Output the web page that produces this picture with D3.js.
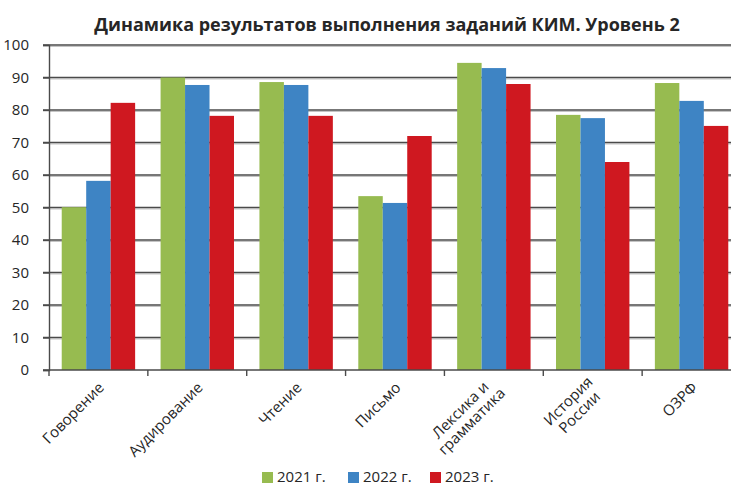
<!DOCTYPE html>
<html>
<head>
<meta charset="utf-8">
<script src="https://cdn.jsdelivr.net/npm/d3@7"></script>
<style>
  body { margin: 0; background: #fff; }
  svg { display: block; font-family: "Open Sans", "Noto Sans", sans-serif; }
</style>
</head>
<body>
<svg class="chart" width="731" height="487"></svg>
<script>
// data
const categories = ["Говорение", "Аудирование", "Чтение", "Письмо", "Лексика и\nграмматика", "История\nРоссии", "ОЗРФ"];
const years = ["2021 г.", "2022 г.", "2023 г."];
const values2021 = [50.1, 90.0, 88.6, 53.5, 94.5, 78.5, 88.3];
const values2022 = [58.2, 87.7, 87.7, 51.4, 92.9, 77.5, 82.8];
const values2023 = [82.2, 78.2, 78.2, 72.0, 88.0, 64.0, 75.1];
const yTicks = [0, 10, 20, 30, 40, 50, 60, 70, 80, 90, 100];

const series = [values2021, values2022, values2023];
const colors = ["#97bb50", "#3e84c4", "#cf1820"];

// config
const plotLeft = 49;
const plotRight = 741;
const plotTop = 45;
const plotBottom = 370;
const textColor = "#262626";

const svg = d3.select("svg.chart");

const x0 = d3.scaleBand().domain(d3.range(categories.length)).range([plotLeft, plotRight]);
const x1 = d3.scaleBand().domain(d3.range(years.length))
  .range([0, x0.bandwidth()]).paddingInner(0).paddingOuter(0.52);
const y = d3.scaleLinear().domain([0, 100]).range([plotBottom, plotTop]);

// title
svg.append("text")
  .attr("x", 387).attr("y", 31)
  .attr("text-anchor", "middle")
  .attr("font-size", 18).attr("font-weight", "bold")
  .attr("fill", textColor)
  .text("Динамика результатов выполнения заданий КИМ. Уровень 2");

// gridlines (dark line with light shadow)
const grid = svg.append("g").attr("class", "grid");
yTicks.filter(t => t > 0).forEach(t => {
  grid.append("line")
    .attr("x1", plotLeft).attr("x2", plotRight)
    .attr("y1", y(t) + 1.5).attr("y2", y(t) + 1.5)
    .attr("stroke", "#c4c4c4").attr("stroke-width", 1.2);
  grid.append("line")
    .attr("x1", plotLeft - 6).attr("x2", plotRight)
    .attr("y1", y(t)).attr("y2", y(t))
    .attr("stroke", "#4a4a4a").attr("stroke-width", 1.4);
});

// bars
const groups = svg.append("g").attr("class", "bars")
  .selectAll("g")
  .data(categories.map((c, i) => i))
  .join("g")
  .attr("transform", i => `translate(${x0(i)},0)`);

groups.selectAll("rect")
  .data(i => series.map((s, k) => ({ k, v: s[i] })))
  .join("rect")
  .attr("x", d => x1(d.k))
  .attr("width", x1.bandwidth())
  .attr("y", d => y(d.v))
  .attr("height", d => plotBottom - y(d.v))
  .attr("fill", d => colors[d.k]);

// y axis
const yAxis = svg.append("g")
  .attr("transform", `translate(${plotLeft},0)`)
  .call(d3.axisLeft(y).tickValues(yTicks).tickSize(6).tickPadding(14));
yAxis.select(".domain").attr("stroke", "#4a4a4a").attr("stroke-width", 1.4);
yAxis.selectAll(".tick line").attr("stroke", "#4a4a4a").attr("stroke-width", 1.4);
yAxis.selectAll("text")
  .attr("font-size", 15).attr("fill", textColor)
  .attr("font-family", "\"Open Sans\", sans-serif");

// x axis
const xAxis = svg.append("g").attr("class", "x-axis");
xAxis.append("line")
  .attr("x1", plotLeft - 6).attr("x2", plotRight)
  .attr("y1", plotBottom).attr("y2", plotBottom)
  .attr("stroke", "#4a4a4a").attr("stroke-width", 1.4);
d3.range(categories.length).forEach(i => {
  xAxis.append("line")
    .attr("x1", x0(i)).attr("x2", x0(i))
    .attr("y1", plotBottom).attr("y2", plotBottom + 6)
    .attr("stroke", "#4a4a4a").attr("stroke-width", 1.4);
});

// category labels: rotated -45, lines centred on each other, block ending at band centre
const lineH = 16;
categories.forEach((c, i) => {
  const lines = c.split("\n");
  const cx = x0(i) + x0.bandwidth() / 2;
  const outer = xAxis.append("g")
    .attr("transform", `translate(${cx + 3},${plotBottom + 15}) rotate(-45)`);
  const t = outer.append("text")
    .attr("text-anchor", "middle")
    .attr("font-size", 15)
    .attr("fill", textColor);
  lines.forEach((ln, j) => {
    t.append("tspan")
      .attr("x", 0)
      .attr("dy", j === 0 ? (-(lines.length - 1) * lineH / 2 + 5) + "px" : lineH + "px")
      .text(ln);
  });
  const maxLen = d3.max(t.selectAll("tspan").nodes(), n => n.getComputedTextLength());
  t.attr("transform", `translate(${-maxLen / 2},0)`);
});

// legend
const legendX = [262, 348, 430];
const legend = svg.append("g").attr("class", "legend");
years.forEach((yr, k) => {
  legend.append("rect")
    .attr("x", legendX[k]).attr("y", 472)
    .attr("width", 11).attr("height", 11)
    .attr("fill", colors[k]);
  legend.append("text")
    .attr("x", legendX[k] + 15).attr("y", 482)
    .attr("font-size", 15).attr("fill", textColor)
    .text(yr);
});
</script>
</body>
</html>
